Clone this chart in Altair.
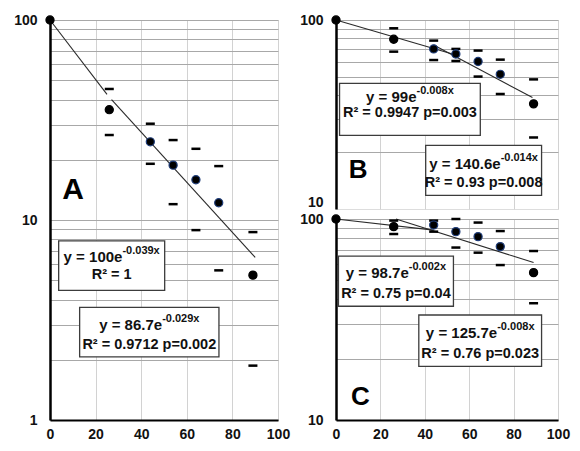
import altair as alt
import pandas as pd

# ---------------- data ----------------
x_vals = [0, 26, 44, 54, 64, 74, 89]

a_mean = [100, 35.6, 24.6, 18.8, 15.9, 12.2, 5.3]
a_upper = [None, 45.2, 30.3, 25.1, 22.7, 18.6, 8.7]
a_lower = [None, 26.6, 19.1, 12.0, 8.9, 5.6, 1.87]

b_mean = [100, 79.1, 70.3, 66.1, 60.3, 51.6, 36.0]
b_upper = [None, 90.4, 77.8, 70.3, 68.9, 61.7, 48.5]
b_lower = [None, 68.0, 61.4, 60.7, 50.2, 40.6, 23.9]

c_mean = [100, 91.6, 93.3, 86.5, 81.7, 72.9, 54.1]
c_upper = [None, 98.2, 98.2, 100, 96.0, 87.1, 69.3]
c_lower = [None, 84.2, 86.5, 72.1, 68.0, 59.0, 38.1]

# trend-line end points (x, y)
a_fits = [([0, 25], [100, 42.5]), ([27, 90], [40, 6.5])]
b_fits = [([0, 54], [100, 65.3]), ([44, 88.5], [73.7, 38.9])]
c_fits = [([0, 44], [100, 88.0]), ([27, 89], [100, 60.7])]

# equation labels: (main, superscript, second line)
a_eqs = [("y = 100e", "-0.039x", "R² = 1"),
         ("y = 86.7e", "-0.029x", "R² = 0.9712 p=0.002")]
b_eqs = [("y = 99e", "-0.008x", "R² = 0.9947 p=0.003"),
         ("y = 140.6e", "-0.014x", "R² = 0.93 p=0.008")]
c_eqs = [("y = 98.7e", "-0.002x", "R² = 0.75 p=0.04"),
         ("y = 125.7e", "-0.008x", "R² = 0.76 p=0.023")]

panel_letters = ["A", "B", "C"]

# ---------------- layout (data-space placement of annotations) ----------------
# box: x1, x2, y_top, y_bottom, y_line1, y_line2
a_boxes = [(3.8, 50.3, 7.87, 4.45, 6.5, 5.3),
           (13.0, 74.1, 3.66, 2.07, 2.97, 2.36)]
b_boxes = [(1.6, 65.0, 46.2, 24.5, 39.0, 32.1),
           (40.4, 92.6, 21.7, 11.8, 17.3, 13.7)]
c_boxes = [(1.1, 52.9, 65.3, 36.8, 53.7, 42.3),
           (37.3, 92.6, 33.3, 18.5, 27.0, 21.3)]
letter_pos = {"A": (10.1, 14.1, 30), "B": (10.0, 16.0, 26), "C": (11.0, 13.0, 26)}

edges = ["black", "black", "#1f3d7a", "#1f3d7a", "#1f3d7a", "#1f3d7a", "black"]

FONT = "Liberation Sans"
TXT = "#111111"
MAIN_FS = 15
SUP_FS = 11
R2_FS = 14.5

# approximate bold glyph widths (em) used only to centre the equation + exponent
_W = {"0": .556, "1": .556, "2": .556, "3": .556, "4": .556, "5": .556, "6": .556,
      "7": .556, "8": .556, "9": .556, ".": .278, " ": .278, "=": .584, "y": .556,
      "e": .556, "-": .333, "x": .556}


def text_w(s, fs):
    return sum(_W.get(ch, .556) for ch in s) * fs


def panel(mean, upper, lower, fits, eqs, boxes, letter, ydom, width, height,
          show_x):
    lo, hi = ydom
    if lo == 1:
        grid_vals = [1, 2, 3, 4, 5, 6, 7, 8, 9, 10, 20, 30, 40, 50, 60, 70, 80, 90, 100]
        lab = [1, 10, 100]
    else:
        grid_vals = [10, 20, 30, 40, 50, 60, 70, 80, 90, 100]
        lab = [10, 100]
    lab_expr = "(" + "||".join(f"datum.value=={v}" for v in lab) + ") ? format(datum.value, 'd') : ''"
    y_axis_kw = dict(values=grid_vals, labelExpr=lab_expr, ticks=False,
                     domainColor="black", domainWidth=2.5, gridColor="#a8a8a8",
                     gridWidth=1, labelFont=FONT, labelFontSize=14,
                     labelFontWeight="bold", labelColor=TXT, labelPadding=13,
                     labelOverlap=False, title=None)
    if not show_x:
        y_axis_kw["gridOpacity"] = {"condition": {"test": "datum.value == 10", "value": 0}, "value": 1}
        y_axis_kw["labelBaseline"] = {"condition": {"test": "datum.value == 10", "value": "bottom"}, "value": "middle"}
    yscale = alt.Scale(type="log", domain=[lo, hi])
    xscale = alt.Scale(domain=[0, 100], nice=False)
    if show_x:
        x_axis = alt.Axis(values=[0, 20, 40, 60, 80, 100], ticks=False,
                          domainColor="black", domainWidth=2, gridColor="#d2d2d2",
                          labelFont=FONT, labelFontSize=14, labelFontWeight="bold",
                          labelColor=TXT, labelPadding=7, labelFlush=False,
                          title=None)
    else:
        x_axis = alt.Axis(values=[0, 20, 40, 60, 80, 100], ticks=False,
                          domain=False, labels=False, gridColor="#d2d2d2",
                          title=None)
    X = alt.X("x:Q", scale=xscale, axis=x_axis)
    Y = alt.Y("y:Q", scale=yscale, axis=alt.Axis(**y_axis_kw))

    pts = pd.DataFrame({"x": x_vals, "y": mean, "edge": edges})
    err_rows = []
    for xv, u, l in zip(x_vals, upper, lower):
        if u is not None:
            err_rows.append({"x": xv, "y": u})
            err_rows.append({"x": xv, "y": l})
    err = pd.DataFrame(err_rows)
    fit_rows = []
    for i, (fx, fy) in enumerate(fits):
        for xv, yv in zip(fx, fy):
            fit_rows.append({"x": xv, "y": yv, "seg": i})
    fit = pd.DataFrame(fit_rows)

    px_per_unit = width / 100.0
    box_rows, main_rows, sup_rows, r2_rows = [], [], [], []
    for (main, sup, r2), (x1, x2, yt, yb, y1, y2) in zip(eqs, boxes):
        cx = (x1 + x2) / 2
        mw, sw = text_w(main, MAIN_FS), text_w(sup, SUP_FS)
        sx = cx + (mw - sw) / 2 / px_per_unit
        box_rows.append({"x": x1, "x2": x2, "y": yt, "y2": yb})
        main_rows.append({"x": sx, "y": y1, "t": main})
        sup_rows.append({"x": sx, "y": y1, "t": sup})
        r2_rows.append({"x": cx, "y": y2, "t": r2})
    lx, ly, lsize = letter_pos[letter]
    let = pd.DataFrame({"x": [lx], "y": [ly], "t": [letter]})

    base_grid = alt.Chart(pts).mark_point(opacity=0).encode(x=X, y=Y)
    lines = alt.Chart(fit).mark_line(color="#2a2a2a", strokeWidth=1.1).encode(
        x=X, y=Y, detail="seg:N")
    ticks = alt.Chart(err).mark_tick(orient="horizontal", size=9, thickness=2.5,
                                     color="black", opacity=1).encode(x=X, y=Y)
    dots = alt.Chart(pts).mark_circle(size=66, color="black", opacity=1,
                                      strokeWidth=1.2).encode(
        x=X, y=Y, stroke=alt.Stroke("edge:N", scale=None))
    rects = alt.Chart(pd.DataFrame(box_rows)).mark_rect(
        fill="white", stroke="#3c3c3c", strokeWidth=1.3).encode(
        x=X, x2="x2:Q", y=Y, y2="y2:Q")
    mains = alt.Chart(pd.DataFrame(main_rows)).mark_text(
        font=FONT, fontSize=MAIN_FS, fontWeight="bold", align="right",
        baseline="middle", color=TXT).encode(x=X, y=Y, text="t:N")
    sups = alt.Chart(pd.DataFrame(sup_rows)).mark_text(
        font=FONT, fontSize=SUP_FS, fontWeight="bold", align="left",
        baseline="middle", dy=-6, color=TXT).encode(x=X, y=Y, text="t:N")
    r2s = alt.Chart(pd.DataFrame(r2_rows)).mark_text(
        font=FONT, fontSize=R2_FS, fontWeight="bold", align="center",
        baseline="middle", color=TXT).encode(x=X, y=Y, text="t:N")
    letter_txt = alt.Chart(let).mark_text(
        font=FONT, fontSize=lsize, fontWeight="bold", align="center",
        baseline="middle", color="black").encode(x=X, y=Y, text="t:N")

    return alt.layer(base_grid, lines, ticks, dots, rects, mains, sups, r2s,
                     letter_txt).properties(width=width, height=height)


pa = panel(a_mean, a_upper, a_lower, a_fits, a_eqs, a_boxes, "A", (1, 100), 228, 400, True)
pb = panel(b_mean, b_upper, b_lower, b_fits, b_eqs, b_boxes, "B", (10, 100), 222, 189, False)
pc = panel(c_mean, c_upper, c_lower, c_fits, c_eqs, c_boxes, "C", (10, 100), 222, 201, True)

right = alt.vconcat(pb, pc, spacing=10, bounds="flush")
chart = alt.hconcat(pa, right, spacing=58, bounds="flush").properties(
    padding={"top": 4, "left": 5, "right": 0, "bottom": 0}
).configure_view(strokeWidth=0).configure(background="white")

chart.save("out.html", embed_options={"renderer": "svg", "actions": False})
